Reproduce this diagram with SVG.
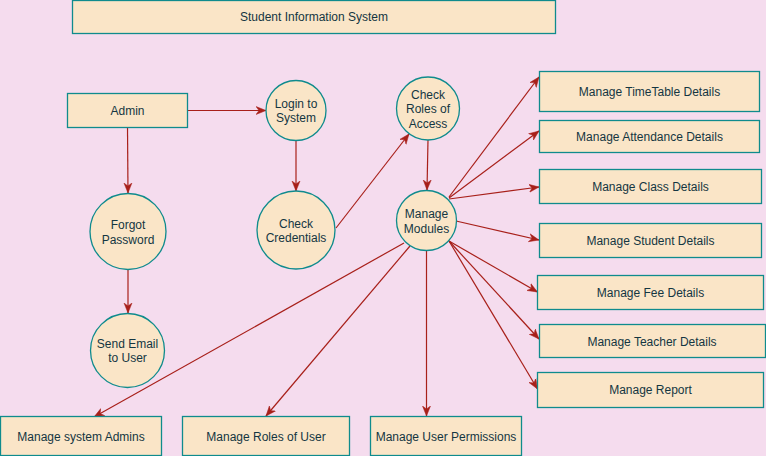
<svg xmlns="http://www.w3.org/2000/svg" width="766" height="456" viewBox="0 0 766 456">
<defs>
<style>
.n{fill:#FAE5C7;stroke:#0F8B8D;stroke-width:1.3}
.t{font-family:"Liberation Sans",Arial,sans-serif;font-size:12px;fill:#143642;text-anchor:middle;dominant-baseline:central}
.e{stroke:#A8201A;stroke-width:1.2;fill:none;marker-end:url(#a)}
</style>
<marker id="a" markerUnits="userSpaceOnUse" markerWidth="12" markerHeight="10" refX="10" refY="4" orient="auto" viewBox="0 0 12 8">
<path d="M0,0 L10,4 L0,8 L3,4 Z" fill="#A8201A" stroke="#A8201A" stroke-width="0.5"/>
</marker>
</defs>
<rect width="766" height="456" fill="#F5DCEE"/>
<g id="connectors">
<line class="e" x1="187.5" y1="110.5" x2="266" y2="110.5"/>
<line class="e" x1="127.5" y1="127.5" x2="128" y2="193"/>
<line class="e" x1="296" y1="140" x2="296" y2="191"/>
<line class="e" x1="336" y1="228" x2="409" y2="134"/>
<line class="e" x1="428" y1="140" x2="427" y2="190"/>
<line class="e" x1="128" y1="269" x2="128" y2="313"/>
<line class="e" x1="449" y1="197" x2="539" y2="77"/>
<line class="e" x1="449" y1="198" x2="539" y2="131"/>
<line class="e" x1="449" y1="199" x2="539" y2="187"/>
<line class="e" x1="456" y1="221" x2="539" y2="240"/>
<line class="e" x1="449" y1="241" x2="537.5" y2="292"/>
<line class="e" x1="449" y1="241" x2="539" y2="339"/>
<line class="e" x1="449" y1="241" x2="537.5" y2="389"/>
<line class="e" x1="426.5" y1="250.5" x2="426.5" y2="416"/>
<line class="e" x1="410" y1="246" x2="266" y2="416"/>
<line class="e" x1="404" y1="243" x2="94" y2="417"/>
</g>
<g id="title"><rect class="n" x="72.5" y="0.5" width="483" height="33"/><text class="t" x="314" y="17">Student Information System</text></g>
<g id="admin"><rect class="n" x="67.5" y="93.5" width="120" height="34"/><text class="t" x="127.5" y="110.5">Admin</text></g>
<g id="login"><circle class="n" cx="296" cy="110.5" r="30"/><text class="t" x="296" y="103.5">Login to</text><text class="t" x="296" y="118">System</text></g>
<g id="checkCredentials"><circle class="n" cx="296" cy="230" r="39"/><text class="t" x="296" y="223.5">Check</text><text class="t" x="296" y="238">Credentials</text></g>
<g id="forgot"><circle class="n" cx="128" cy="231.5" r="38"/><text class="t" x="128" y="225">Forgot</text><text class="t" x="128" y="239.5">Password</text></g>
<g id="sendEmail"><circle class="n" cx="127.5" cy="350.5" r="37"/><text class="t" x="127.5" y="343.5">Send Email</text><text class="t" x="127.5" y="358">to User</text></g>
<g id="checkRoles"><circle class="n" cx="428" cy="108.5" r="31.5"/><text class="t" x="428" y="94.5">Check</text><text class="t" x="428" y="109">Roles of</text><text class="t" x="428" y="123.5">Access</text></g>
<g id="manageModules"><circle class="n" cx="426.5" cy="220.5" r="30"/><text class="t" x="426.5" y="214">Manage</text><text class="t" x="426.5" y="228.5">Modules</text></g>
<g id="timetable"><rect class="n" x="539.5" y="71.5" width="220" height="40"/><text class="t" x="649.5" y="91.5">Manage TimeTable Details</text></g>
<g id="attendance"><rect class="n" x="539.5" y="120.5" width="220" height="32"/><text class="t" x="649.5" y="136.5">Manage Attendance Details</text></g>
<g id="class"><rect class="n" x="539.5" y="169.5" width="222" height="34"/><text class="t" x="650.5" y="186.5">Manage Class Details</text></g>
<g id="student"><rect class="n" x="539.5" y="223.5" width="222" height="34"/><text class="t" x="650.5" y="240.5">Manage Student Details</text></g>
<g id="fee"><rect class="n" x="537.5" y="275.5" width="226" height="34"/><text class="t" x="650.5" y="292.5">Manage Fee Details</text></g>
<g id="teacher"><rect class="n" x="539.5" y="324.5" width="226" height="33"/><text class="t" x="652" y="341.5">Manage Teacher Details</text></g>
<g id="report"><rect class="n" x="537.5" y="372.5" width="226" height="35"/><text class="t" x="650.5" y="390">Manage Report</text></g>
<g id="systemAdmins"><rect class="n" x="0.5" y="416.5" width="161" height="39"/><text class="t" x="81" y="436.5">Manage system Admins</text></g>
<g id="rolesOfUser"><rect class="n" x="182.5" y="416.5" width="167" height="39"/><text class="t" x="266" y="436.5">Manage Roles of User</text></g>
<g id="userPermissions"><rect class="n" x="370.5" y="416.5" width="151" height="39"/><text class="t" x="446" y="436.5">Manage User Permissions</text></g>
</svg>
